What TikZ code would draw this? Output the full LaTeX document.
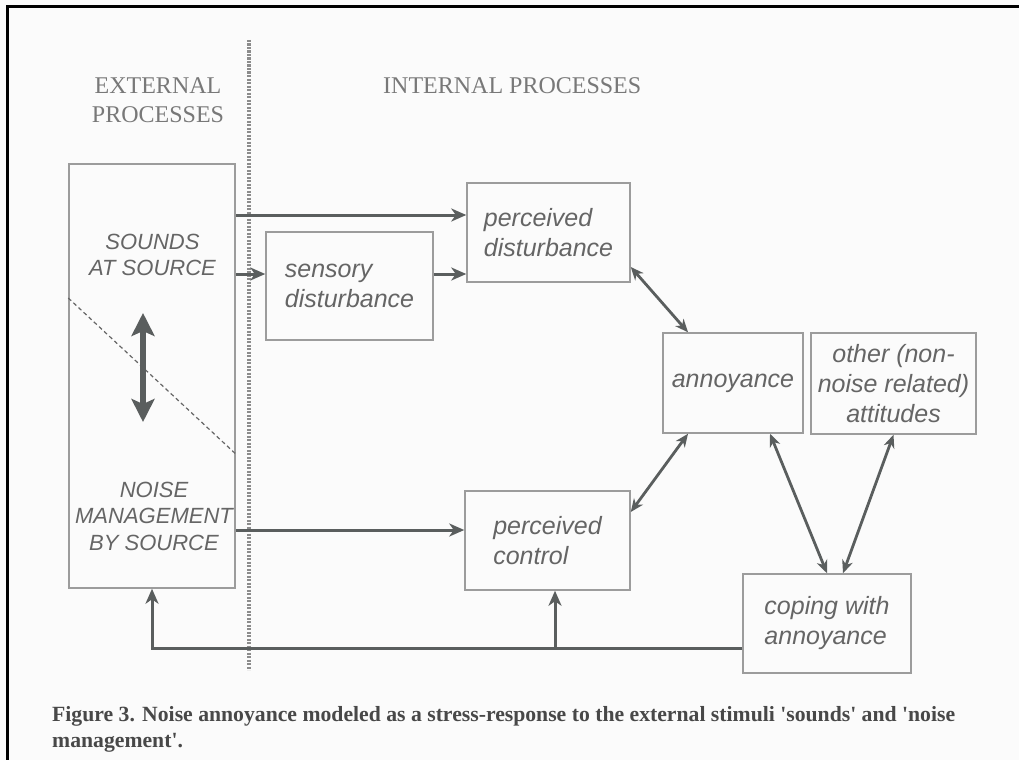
\documentclass[tikz,border=0pt]{standalone}
\usepackage{fontspec}
\setmainfont{Liberation Serif}
\setsansfont{Liberation Sans}
\usetikzlibrary{arrows.meta,calc}
\definecolor{bg}{HTML}{FBFBFB}
\definecolor{boxc}{HTML}{9C9C9C}
\definecolor{arrc}{HTML}{5A5E5E}
\definecolor{txt}{HTML}{656565}
\definecolor{hdr}{HTML}{787878}
\definecolor{capc}{HTML}{484848}
\definecolor{dotc}{HTML}{8C8C8C}
\tikzset{
  procbox/.style={draw=boxc, line width=1.5pt, inner sep=0pt, text=txt,
    font=\sffamily\itshape\fontsize{25}{30}\selectfont, align=left},
  extlabel/.style={inner sep=0pt, text=txt, align=center,
    font=\sffamily\itshape\fontsize{22}{26.5}\selectfont},
  heading/.style={inner sep=0pt, text=hdr, align=center,
    font=\rmfamily\fontsize{24}{29}\selectfont},
  captext/.style={inner sep=0pt, text=capc,
    font=\rmfamily\bfseries\fontsize{21.7}{26}\selectfont},
  arr/.style={draw=arrc, line width=3pt,
    -{Stealth[length=15pt,width=13pt,inset=4.5pt]}},
  darr/.style={draw=arrc, line width=2.8pt,
    {Stealth[length=13pt,width=11pt,inset=4pt]}-{Stealth[length=13pt,width=11pt,inset=4pt]}},
  bigdarr/.style={draw=arrc, line width=5.5pt,
    {Stealth[length=23pt,width=23pt,inset=5pt]}-{Stealth[length=23pt,width=23pt,inset=5pt]}},
  divider/.style={draw=dotc, line width=4pt, dash pattern=on 2.2pt off 1.3pt},
  diag/.style={draw=txt, line width=1.2pt, dash pattern=on 4pt off 3pt},
  frameline/.style={draw=black, line width=3pt}
}
\begin{document}
\begin{tikzpicture}[x=1pt,y=-1pt]
\fill[bg] (0,0) rectangle (1019,760);
\useasboundingbox (0,0) rectangle (1019,760);
% frame
\coordinate (f1) at (1019,6.5);
\coordinate (f2) at (7.5,6.5);
\coordinate (f3) at (7.5,760);
\draw[frameline] (f1) -- (f2) -- (f3);
% divider
\coordinate (dv1) at (249,40);
\coordinate (dv2) at (249,670);
\draw[divider] (dv1) -- (dv2);
% headings
\node[heading] (hext) at (158,100) {EXTERNAL\\PROCESSES};
\node[heading, anchor=west] (hint) at (383,86) {INTERNAL PROCESSES};
% boxes
\node[procbox, minimum width=166pt, minimum height=424pt] (big) at (152,376) {};
\node[procbox, minimum width=167pt, minimum height=108pt] (sens) at (349.5,286) {sensory\\disturbance};
\node[procbox, minimum width=163pt, minimum height=99pt] (pd) at (548.5,232.5) {perceived\\disturbance};
\node[procbox, minimum width=140pt, minimum height=100pt] (ann) at (733,383) {annoyance};
\node[procbox, minimum width=165pt, minimum height=101pt, align=center] (oth) at (893.5,383.5) {other (non-\\noise related)\\attitudes};
\node[procbox, minimum width=165pt, minimum height=99pt] (pc) at (547.5,540.5) {perceived\\control};
\node[procbox, minimum width=168pt, minimum height=99pt] (cop) at (827,623.5) {coping with\\annoyance};
% labels in big box
\node[extlabel] (sas) at (152.5,255) {SOUNDS\\AT SOURCE};
\node[extlabel] (nmb) at (154,516) {NOISE\\MANAGEMENT\\BY SOURCE};
% diagonal and big double arrow
\draw[diag] (big.west |- 0,298) -- (big.east |- 0,454);
\coordinate (da1) at (143,313);
\coordinate (da2) at (143,422);
\draw[bigdarr] (da1) -- (da2);
% arrows
\draw[arr] (big.east |- 0,215) -- (pd.west |- 0,215);
\draw[arr] (big.east |- 0,274) -- (sens.west |- 0,274);
\draw[arr] (sens.east |- 0,274) -- (pd.west |- 0,274);
\draw[arr] (big.east |- 0,530) -- (pc.west |- 0,530);
\draw[darr] (pd.east |- 0,267) -- (ann.north -| 688,0);
\draw[darr] (pc.east |- 0,512) -- (ann.south -| 688,0);
\draw[darr] (ann.south -| 770,0) -- (cop.north);
\draw[darr] (oth.south) -- (cop.north -| 843,0);
% feedback
\draw[arr] (cop.west |- 0,648) -| (big.south);
\coordinate (jn) at (555,648);
\draw[arr] (jn) -- (jn |- pc.south);
% caption
\node[captext, anchor=base west] (cap1) at (52,721) {Figure 3. Noise annoyance modeled as a stress-response to the external stimuli \textquotesingle sounds\textquotesingle\ and \textquotesingle noise};
\node[captext, anchor=base west] (cap2) at (52,747) {management\textquotesingle.};
\end{tikzpicture}
\end{document}
